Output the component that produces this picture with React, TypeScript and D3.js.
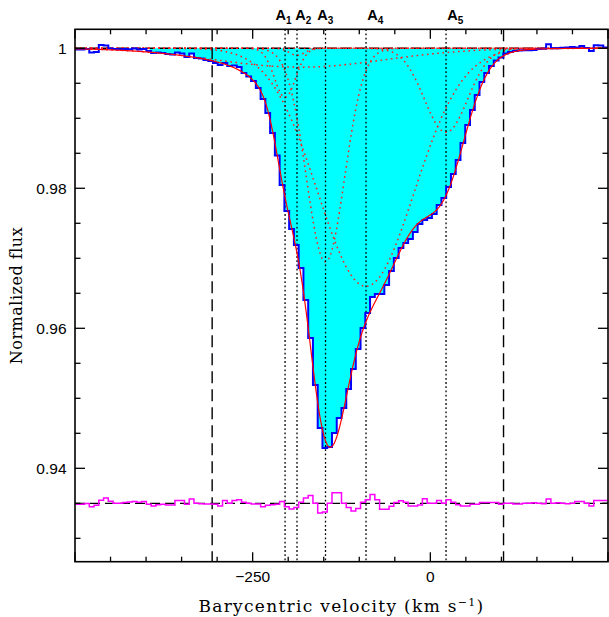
import React from 'react';
import * as d3 from 'd3';

// ---------- data ----------
const velStart = -500; // km/s, left edge of first bin
const binWidth = 750 / 112; // km/s per pixel bin

// observed normalized flux per bin (blue histogram)
const flux = [
  0.99983, 0.99983, 0.9999, 0.9994, 0.99947, 1.00047, 1.0004, 0.99997, 0.9999, 0.99986,
  0.9999, 0.99986, 0.99997, 0.99983, 0.9999, 0.99961, 0.99933, 0.9994, 0.99933, 0.99919,
  0.99911, 0.9994, 0.99926, 0.99876, 0.99926, 0.99861, 0.99854, 0.99833, 0.99819, 0.9979,
  0.99761, 0.9979, 0.99747, 0.99754, 0.99733, 0.99647, 0.99597, 0.99533, 0.99433, 0.99276,
  0.99076, 0.9879, 0.98469, 0.98047, 0.97676, 0.97419, 0.9719, 0.96861, 0.96404, 0.95861,
  0.9519, 0.94576, 0.9429, 0.94304, 0.94504, 0.94719, 0.94861, 0.95133, 0.95419, 0.95704,
  0.96004, 0.96219, 0.96447, 0.9649, 0.9649, 0.96619, 0.96819, 0.97004, 0.97147, 0.97219,
  0.97276, 0.97376, 0.9749, 0.97547, 0.97576, 0.97633, 0.97761, 0.97861, 0.98019, 0.98204,
  0.98404, 0.98647, 0.98904, 0.99119, 0.99333, 0.99519, 0.99647, 0.99747, 0.99826, 0.99869,
  0.99926, 0.99947, 0.99961, 0.99969, 0.99971, 0.99973, 0.99976, 0.9999, 0.99993, 1.00059,
  1.0, 1.0, 1.00007, 1.00011, 1.00019, 1.00011, 1.00033, 1.00004, 0.99961, 1.00043,
  1.0004, 1.00011,
];

// residuals (data - model), plotted offset at residualLevel (magenta histogram)
const residual = [
  0.93485, 0.93485, 0.93496, 0.9345, 0.93471, 0.93543, 0.93575, 0.93529, 0.935, 0.935,
  0.9351, 0.93517, 0.93525, 0.93514, 0.93525, 0.93486, 0.9346, 0.93479, 0.93486, 0.93475,
  0.93475, 0.9354, 0.9354, 0.93486, 0.9356, 0.935, 0.93493, 0.9349, 0.93489, 0.93486,
  0.9346, 0.9354, 0.935, 0.9354, 0.9355, 0.93514, 0.935, 0.9349, 0.9349, 0.9345,
  0.93471, 0.93479, 0.93486, 0.93525, 0.9345, 0.9342, 0.9344, 0.93514, 0.93575, 0.9361,
  0.935, 0.9336, 0.93375, 0.935, 0.9365, 0.9365, 0.935, 0.9344, 0.9339, 0.93425,
  0.93514, 0.9355, 0.93625, 0.9355, 0.93415, 0.93415, 0.93457, 0.9351, 0.93535, 0.93514,
  0.9346, 0.9346, 0.93475, 0.93565, 0.935, 0.935, 0.9354, 0.935, 0.9355, 0.93514,
  0.93479, 0.9346, 0.9346, 0.93486, 0.93486, 0.9351, 0.9351, 0.9351, 0.9351, 0.93486,
  0.935, 0.935, 0.9349, 0.9349, 0.935, 0.935, 0.93507, 0.935, 0.93493, 0.9356,
  0.935, 0.93507, 0.935, 0.93493, 0.935, 0.93525, 0.93525, 0.935, 0.9346, 0.9354,
  0.9354, 0.9354,
];

// fitted absorption components (velocity km/s, depth, Gaussian width km/s)
const componentNames = ['1', '2', '3', '4', '5'];
const componentCenters = [-204.4, -187.6, -147.5, -90.5, 22.1];
const componentDepths = [0.007, 0.001, 0.0305, 0.034, 0.012];
const componentWidths = [21.1, 15.5, 38, 95.7, 43];
// broad shallow component
const broadCenter = -183.3;
const broadDepth = 0.0027;
const broadWidth = 168.8;

const integrationLimits = [-307, 103];
const fillRange = [-395, 125];
const residualLevel = 0.935;
const xTickLabels = [-250, 0];
const yTickLabels = [0.94, 0.96, 0.98, 1];

// label nudges (px) for component labels
const labelNudge = [-9.5, -1.7, -8.3, 1.3, 1.3];

const gauss = (v: number, c: number, d: number, w: number) => {
  const z = (v - c) / w;
  return 1 - d * Math.exp(-(z * z));
};

export default function App() {
  const W = 609;
  const H = 617;
  const left = 75, right = 608, top = 29.3, bottom = 561.7;
  const x = d3.scaleLinear().domain([-500, 250]).range([left, right]);
  const y = d3.scaleLinear().domain([0.92666, 1.00271]).range([bottom, top]);

  const edges = flux.map((_, i) => velStart + i * binWidth);
  const stepPts = (vals: number[]) => [
    ...vals.map((f, i) => [edges[i], f] as [number, number]),
    [velStart + vals.length * binWidth, vals[vals.length - 1]] as [number, number],
  ];
  const stepLine = d3
    .line<[number, number]>()
    .x((d) => x(d[0]))
    .y((d) => y(d[1]))
    .curve(d3.curveStepAfter);

  const fillIdx = flux
    .map((_, i) => i)
    .filter((i) => edges[i] + binWidth > fillRange[0] && edges[i] < fillRange[1]);
  const fillData: [number, number][] = fillIdx.map((i) => [Math.max(edges[i], fillRange[0]), flux[i]]);
  const lastI = fillIdx[fillIdx.length - 1];
  fillData.push([Math.min(edges[lastI] + binWidth, fillRange[1]), flux[lastI]]);
  const area = d3
    .area<[number, number]>()
    .x((d) => x(d[0]))
    .y0(y(1))
    .y1((d) => y(Math.min(d[1], 1)))
    .curve(d3.curveStepAfter);

  const vgrid = d3.range(-500, 250.01, 1);
  const compCurves = componentCenters.map((c, k) =>
    vgrid.map((v) => [v, gauss(v, c, componentDepths[k], componentWidths[k])] as [number, number])
  );
  compCurves.push(vgrid.map((v) => [v, gauss(v, broadCenter, broadDepth, broadWidth)] as [number, number]));
  const model = vgrid.map((v) => {
    let p = gauss(v, broadCenter, broadDepth, broadWidth);
    componentCenters.forEach((c, k) => {
      p *= gauss(v, c, componentDepths[k], componentWidths[k]);
    });
    return [v, p] as [number, number];
  });
  const smooth = d3
    .line<[number, number]>()
    .x((d) => x(d[0]))
    .y((d) => y(d[1]));

  const xTicks = d3.range(-500, 251, 50);
  const yTicks = d3.range(186, 201).map((k) => k * 0.005);

  const sans = 'Liberation Sans, Arial, Helvetica, sans-serif';
  const serif = 'DejaVu Serif, serif';

  return (
    <svg
      width={W}
      height={H}
      style={{ position: 'absolute', left: 0, top: 0, background: '#fff' }}
    >
      <defs>
        <clipPath id="plot">
          <rect x={left} y={top} width={right - left} height={bottom - top} />
        </clipPath>
      </defs>
      <g clipPath="url(#plot)">
        <path d={area(fillData) || ''} fill="#00ffff" stroke="none" />
        <line x1={left} x2={right} y1={y(1)} y2={y(1)} stroke="#000" strokeWidth={1.3} strokeDasharray="10,4" />
        <line
          x1={left}
          x2={right}
          y1={y(residualLevel)}
          y2={y(residualLevel)}
          stroke="#000"
          strokeWidth={1.3}
          strokeDasharray="10,5"
        />
        {compCurves.map((pts, k) => (
          <path key={k} d={smooth(pts) || ''} fill="none" stroke="#ff2020" strokeWidth={1.5} strokeDasharray="1.6,3.6" />
        ))}
        {integrationLimits.map((v, k) => (
          <line key={k} x1={x(v)} x2={x(v)} y1={top} y2={bottom} stroke="#000" strokeWidth={1.4} strokeDasharray="12,6" />
        ))}
        {componentCenters.map((v, k) => (
          <line key={k} x1={x(v)} x2={x(v)} y1={top} y2={bottom} stroke="#000" strokeWidth={1.3} strokeDasharray="1.8,2.4" />
        ))}
        <path d={stepLine(stepPts(flux)) || ''} fill="none" stroke="#0000ff" strokeWidth={2} />
        <path d={smooth(model) || ''} fill="none" stroke="#ff0000" strokeWidth={1.2} />
        <path d={stepLine(stepPts(residual)) || ''} fill="none" stroke="#ff00ff" strokeWidth={1.5} />
      </g>

      {/* frame */}
      <rect x={left} y={top} width={right - left} height={bottom - top} fill="none" stroke="#000" strokeWidth={1.6} />

      {/* x ticks bottom & top */}
      {xTicks.map((v) => {
        const major = v % 250 === 0;
        const len = major ? 9.5 : 5;
        return (
          <g key={v}>
            <line x1={x(v)} x2={x(v)} y1={bottom} y2={bottom - len} stroke="#000" strokeWidth={1.3} />
            <line x1={x(v)} x2={x(v)} y1={top} y2={top + len} stroke="#000" strokeWidth={1.3} />
          </g>
        );
      })}
      {/* y ticks left & right */}
      {yTicks.map((v, i) => {
        const major = (186 + i) % 4 === 0;
        const len = major ? 10 : 5.5;
        return (
          <g key={i}>
            <line x1={left} x2={left + len} y1={y(v)} y2={y(v)} stroke="#000" strokeWidth={1.3} />
            <line x1={right} x2={right - len} y1={y(v)} y2={y(v)} stroke="#000" strokeWidth={1.3} />
          </g>
        );
      })}

      {/* tick labels */}
      {xTickLabels.map((v) => (
        <text key={v} x={x(v)} y={581.7} textAnchor="middle" fontFamily={sans} fontSize={15.5} fill="#000">
          {v < 0 ? '\u2212' + Math.abs(v) : String(v)}
        </text>
      ))}
      {yTickLabels.map((v) => (
        <text key={v} x={66.5} y={y(v)} dy="0.36em" textAnchor="end" fontFamily={sans} fontSize={15.5} fill="#000">
          {String(v)}
        </text>
      ))}

      {/* component labels */}
      {componentCenters.map((v, k) => (
        <text key={k} x={x(v) + labelNudge[k]} y={20} fontFamily={sans} fontWeight="bold" fontSize={14.5} fill="#000">
          A
          <tspan fontSize={10} dy={4}>
            {componentNames[k]}
          </tspan>
        </text>
      ))}

      {/* axis titles */}
      <text
        x={(left + right) / 2}
        y={612}
        textAnchor="middle"
        fontFamily={serif}
        fontSize={17}
        letterSpacing={1.3}
        fill="#000"
      >
        Barycentric velocity (km s
        <tspan fontSize={11} dy={-6}>
          {'\u22121'}
        </tspan>
        <tspan dy={6}>)</tspan>
      </text>
      <text
        transform={`translate(22, ${(top + bottom) / 2}) rotate(-90)`}
        textAnchor="middle"
        fontFamily={serif}
        fontSize={16}
        letterSpacing={0.5}
        fill="#000"
      >
        Normalized flux
      </text>
    </svg>
  );
}
